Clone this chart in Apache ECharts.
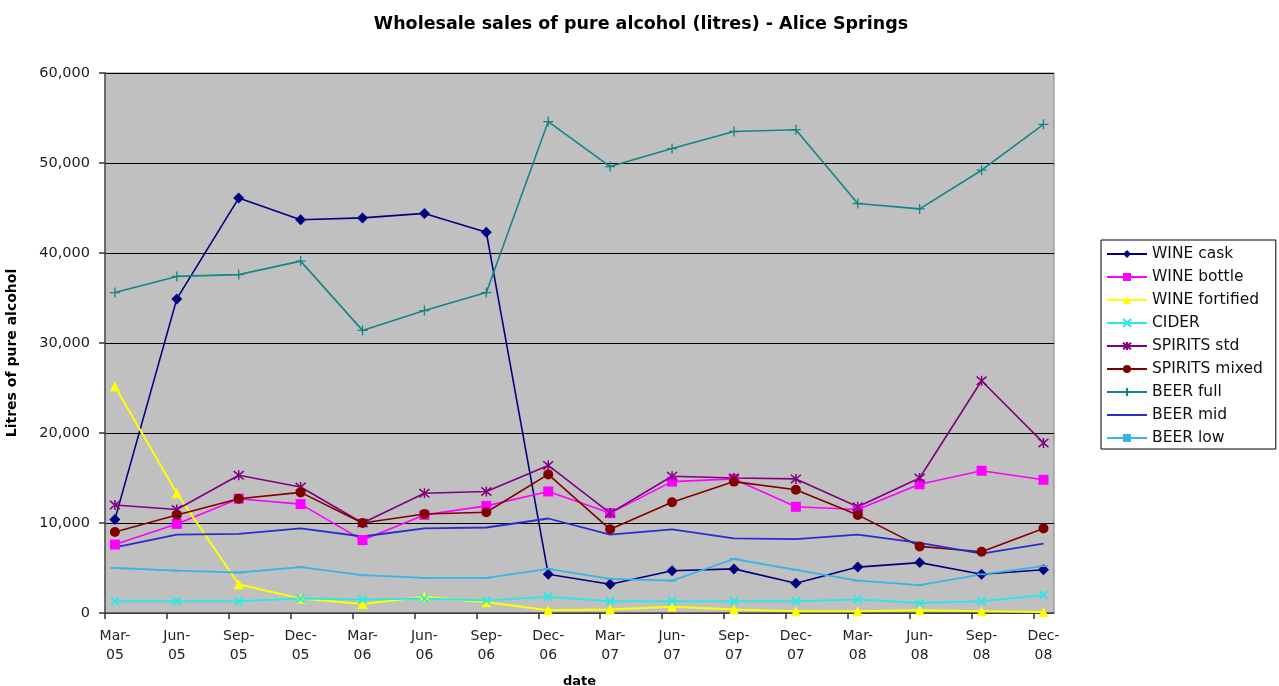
<!DOCTYPE html>
<html>
<head>
<meta charset="utf-8">
<title>Wholesale sales of pure alcohol (litres) - Alice Springs</title>
<script src="https://cdn.jsdelivr.net/npm/echarts@6/dist/echarts.min.js"></script>
<style>
  html, body { margin: 0; padding: 0; background: #ffffff; }
  #chart { width: 1279px; height: 686px; }
</style>
</head>
<body>
<div id="chart"></div>
<script>
// Quarter labels (two-line, as printed under the axis)
const quarters = ['Mar-\n05', 'Jun-\n05', 'Sep-\n05', 'Dec-\n05',
                  'Mar-\n06', 'Jun-\n06', 'Sep-\n06', 'Dec-\n06',
                  'Mar-\n07', 'Jun-\n07', 'Sep-\n07', 'Dec-\n07',
                  'Mar-\n08', 'Jun-\n08', 'Sep-\n08', 'Dec-\n08'];

// Litres of pure alcohol per quarter
const wineCask      = [10400, 34900, 46100, 43700, 43900, 44400, 42300, 4300, 3200, 4700, 4900, 3300, 5100, 5600, 4300, 4800];
const wineBottle    = [7600, 9900, 12700, 12100, 8100, 10900, 11900, 13500, 11100, 14600, 14900, 11800, 11500, 14300, 15800, 14800];
const wineFortified = [25200, 13300, 3200, 1600, 1000, 1800, 1200, 300, 400, 700, 400, 200, 200, 300, 200, 100];
const cider         = [1300, 1300, 1300, 1600, 1500, 1600, 1400, 1800, 1300, 1300, 1300, 1300, 1500, 1100, 1300, 2000];
const spiritsStd    = [12000, 11500, 15300, 14000, 10000, 13300, 13500, 16400, 11100, 15200, 15000, 14900, 11800, 15000, 25800, 18900];
const spiritsMixed  = [9000, 10900, 12700, 13400, 10000, 11000, 11200, 15400, 9300, 12300, 14600, 13700, 10900, 7400, 6800, 9400];
const beerFull      = [35600, 37400, 37600, 39100, 31400, 33600, 35600, 54600, 49600, 51600, 53500, 53700, 45500, 44900, 49200, 54300];
const beerMid       = [7300, 8700, 8800, 9400, 8500, 9400, 9500, 10500, 8700, 9300, 8300, 8200, 8700, 7800, 6600, 7700];
const beerLow       = [5000, 4700, 4500, 5100, 4200, 3900, 3900, 4900, 3800, 3600, 6000, 4800, 3600, 3100, 4300, 5200];

// Y axis tick values
const yTicks = [0, 10000, 20000, 30000, 40000, 50000, 60000];

const FONT = '"DejaVu Sans", Verdana, sans-serif';

// Marker shapes drawn as strokes
const SYM_X = 'path://M0,0L10,10M10,0L0,10';
const SYM_STAR = 'path://M0,0L10,10M10,0L0,10M5,-1L5,11';
const SYM_PLUS = 'path://M5,0L5,10M0,5L10,5';
const SYM_DASH = 'path://M0,4L10,4L10,6L0,6Z';

// Category index -> x position on a value axis; the plot frame starts a little
// before the first quarter and tick marks sit slightly left of each quarter.
const xMin = -0.16, xMax = 15.17;
const tickPositions = quarters.map((q, i) => i - 0.16);
const labelPositions = quarters.map((q, i) => i);

function pairs(arr) { return arr.map((v, i) => [i, v]); }

function lineSeries(name, data, color, symbol, size, opts) {
  const s = {
    name: name,
    type: 'line',
    data: pairs(data),
    symbol: symbol,
    symbolSize: size,
    showAllSymbol: true,
    color: color,
    lineStyle: { color: color, width: 1.6 },
    itemStyle: { color: color, borderColor: color, borderWidth: 0 },
    emphasis: { disabled: true },
    animation: false,
    z: 3
  };
  return Object.assign(s, opts || {});
}

const series = [
  lineSeries('WINE cask', wineCask, '#000080', 'diamond', 11),
  lineSeries('WINE bottle', wineBottle, '#ff00ff', 'rect', 10),
  lineSeries('WINE fortified', wineFortified, '#ffff00', 'triangle', 10, { lineStyle: { color: '#ffff00', width: 2 } }),
  lineSeries('CIDER', cider, '#33e6e6', SYM_X, 8, { itemStyle: { color: '#33e6e6', borderColor: '#33e6e6', borderWidth: 2 }, lineStyle: { color: '#33e6e6', width: 2 } }),
  lineSeries('SPIRITS std', spiritsStd, '#800080', SYM_STAR, 10, { itemStyle: { color: '#800080', borderColor: '#800080', borderWidth: 1.5 } }),
  lineSeries('SPIRITS mixed', spiritsMixed, '#800000', 'circle', 10),
  lineSeries('BEER full', beerFull, '#138585', SYM_PLUS, 10, { itemStyle: { color: '#138585', borderColor: '#138585', borderWidth: 1.3 } }),
  lineSeries('BEER mid', beerMid, '#2b2bd0', 'none', 0, { lineStyle: { color: '#2b2bd0', width: 1.8 } }),
  lineSeries('BEER low', beerLow, '#3ab4e6', SYM_DASH, 9, { symbolKeepAspect: true, lineStyle: { color: '#3ab4e6', width: 1.8 } })
];

const chart = echarts.init(document.getElementById('chart'), null, { renderer: 'canvas' });

chart.setOption({
  backgroundColor: '#ffffff',
  animation: false,
  textStyle: { fontFamily: FONT },
  title: {
    text: 'Wholesale sales of pure alcohol (litres) - Alice Springs',
    left: 636,
    textAlign: 'center',
    top: 10,
    textStyle: { fontFamily: FONT, fontSize: 17.5, fontWeight: 'bold', color: '#000' }
  },
  grid: {
    left: 105, top: 73, width: 949, height: 540,
    show: true,
    backgroundColor: '#c0c0c0',
    borderColor: '#808080',
    borderWidth: 1,
    containLabel: false,
    outerBoundsMode: 'none'
  },
  legend: {
    orient: 'vertical',
    left: 1101,
    top: 240,
    padding: [6, 13, 3, 5],
    itemGap: 7,
    itemWidth: 40,
    itemHeight: 10,
    backgroundColor: '#ffffff',
    borderColor: '#000000',
    borderWidth: 1,
    selectedMode: false,
    textStyle: { fontFamily: FONT, fontSize: 15.5, color: '#111', lineHeight: 16 },
    data: series.map(s => s.symbol === 'none'
      ? { name: s.name, itemStyle: { opacity: 0 } }
      : s.name)
  },
  xAxis: {
    type: 'value',
    min: xMin,
    max: xMax,
    name: 'date',
    nameLocation: 'middle',
    nameGap: 62,
    nameTextStyle: { fontFamily: FONT, fontSize: 13, fontWeight: 'bold', color: '#000' },
    axisLine: { show: true, onZero: false, lineStyle: { color: '#555', width: 1.5 } },
    axisTick: {
      show: true, inside: false, length: 6,
      customValues: tickPositions,
      lineStyle: { color: '#333', width: 1.5 }
    },
    axisLabel: {
      show: true,
      customValues: labelPositions,
      formatter: function (v) { return quarters[Math.round(v)] || ''; },
      margin: 14,
      fontFamily: FONT, fontSize: 14, color: '#222', lineHeight: 19, align: 'center'
    },
    splitLine: { show: false }
  },
  yAxis: {
    type: 'value',
    min: yTicks[0],
    max: yTicks[yTicks.length - 1],
    interval: yTicks[1] - yTicks[0],
    name: 'Litres of pure alcohol',
    nameLocation: 'middle',
    nameGap: 86,
    nameRotate: 90,
    nameTextStyle: { fontFamily: FONT, fontSize: 14, fontWeight: 'bold', color: '#000', padding: [0, 20, 0, 0] },
    axisLine: { show: true, onZero: false, lineStyle: { color: '#555', width: 1.5 } },
    axisTick: { show: true, inside: false, length: 6, lineStyle: { color: '#333', width: 1.5 } },
    axisLabel: {
      margin: 15,
      fontFamily: FONT, fontSize: 14.5, color: '#222',
      formatter: function (v) { return v.toLocaleString('en-US'); }
    },
    splitLine: { show: true, lineStyle: { color: '#000', width: 1.2 } }
  },
  series: series
});
</script>
</body>
</html>
